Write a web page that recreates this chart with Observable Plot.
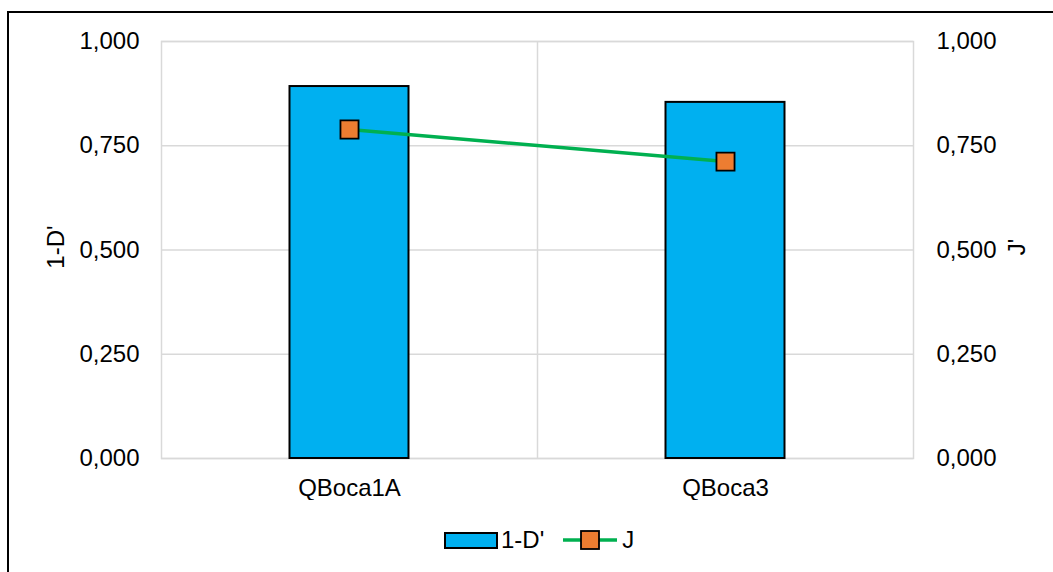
<!DOCTYPE html>
<html>
<head>
<meta charset="utf-8">
<script src="https://cdn.jsdelivr.net/npm/d3@7"></script>
<script src="https://cdn.jsdelivr.net/npm/@observablehq/plot@0.6"></script>
<style>
  html, body { margin: 0; padding: 0; background: #fff; }
  body { width: 1053px; height: 572px; position: relative; overflow: hidden;
         font-family: "Liberation Sans", Arial, sans-serif; color: #000; }
  #frame { position: absolute; left: 7px; top: 11px; width: 1100px; height: 620px;
           border-left: 2px solid #000; border-top: 2px solid #000; box-sizing: border-box; }
  #chart { position: absolute; left: 0; top: 0; }
  #legend { position: absolute; left: 444px; top: 526px; display: flex; align-items: center;
            font-size: 24px; line-height: 28px; }
  #legend .item { display: flex; align-items: center; }
</style>
</head>
<body>
<div id="frame"></div>
<div id="chart"></div>
<div id="legend"></div>
<script>
// Sites and the two diversity indices
const sites = ["QBoca1A", "QBoca3"];
const simpson = [0.892, 0.854];   // 1-D'
const pielou = [0.789, 0.712];    // J'
const yTicks = [0, 0.25, 0.5, 0.75, 1];

const rows = sites.map((s, i) => ({site: s, d: simpson[i], j: pielou[i]}));

const W = 1053, H = 500;
const mL = 161, mR = 140, mT = 41, mB = 42;
const step = (W - mL - mR) / sites.length;
const barW = 119;
const gridColor = "#D9D9D9";
const ink = "#000";
const fs = 24;
const fmt = v => d3.format(".3f")(v).replace(".", ",");

const chart = Plot.plot({
  width: W,
  height: H,
  marginLeft: mL,
  marginRight: mR,
  marginTop: mT,
  marginBottom: mB,
  style: {fontFamily: "'Liberation Sans', Arial, sans-serif", fontSize: fs + "px", color: ink, background: "transparent"},
  x: {domain: sites, padding: 0, label: null},
  y: {domain: [0, 1], label: null},
  marks: [
    Plot.gridY(yTicks, {stroke: gridColor, strokeOpacity: 1, strokeWidth: 1.5}),
    // category boundary gridline
    Plot.ruleX(sites.slice(1), {x: d => d, dx: -step / 2, stroke: gridColor, strokeWidth: 1.5}),
    Plot.frame({stroke: gridColor, strokeWidth: 1.5}),
    Plot.barY(rows, {x: "site", y: "d", fill: "#00B0F0", stroke: "#000", strokeWidth: 2,
                     insetLeft: (step - barW) / 2, insetRight: (step - barW) / 2}),
    Plot.line(rows, {x: "site", y: "j", stroke: "#00B050", strokeWidth: 3.5}),
    Plot.dot(rows, {x: "site", y: "j", symbol: "square", r: 10.2, fill: "#ED7D31", stroke: "#000", strokeWidth: 1.8}),
    Plot.axisY(yTicks, {anchor: "left", tickSize: 0, tickPadding: 22, tickFormat: fmt, fontSize: fs, fill: ink}),
    Plot.axisY(yTicks, {anchor: "right", tickSize: 0, tickPadding: 23, tickFormat: fmt, fontSize: fs, fill: ink}),
    Plot.axisX({tickSize: 0, tickPadding: 20, fontSize: fs, fill: ink}),
    Plot.text(["1-D'"], {frameAnchor: "left", textAnchor: "middle", dx: -105, dy: -3, rotate: -90, fontSize: fs, fill: ink}),
    Plot.text(["J'"], {frameAnchor: "right", textAnchor: "middle", dx: 104, dy: -3, rotate: -90, fontSize: fs, fill: ink})
  ]
});
document.getElementById("chart").appendChild(chart);

// Legend below the plot
const legend = document.getElementById("legend");
legend.innerHTML = `
  <span class="item">
    <svg width="54" height="17"><rect x="1" y="1" width="52" height="15" fill="#00B0F0" stroke="#000" stroke-width="2"/></svg>
    <span style="margin-left:3px">1-D'</span>
  </span>
  <span class="item" style="margin-left:18px">
    <svg width="56" height="22"><line x1="1" y1="11" x2="55" y2="11" stroke="#00B050" stroke-width="3.5"/>
      <rect x="19" y="2" width="18" height="18" fill="#ED7D31" stroke="#000" stroke-width="1.8"/></svg>
    <span style="margin-left:4px">J</span>
  </span>`;
</script>
</body>
</html>
